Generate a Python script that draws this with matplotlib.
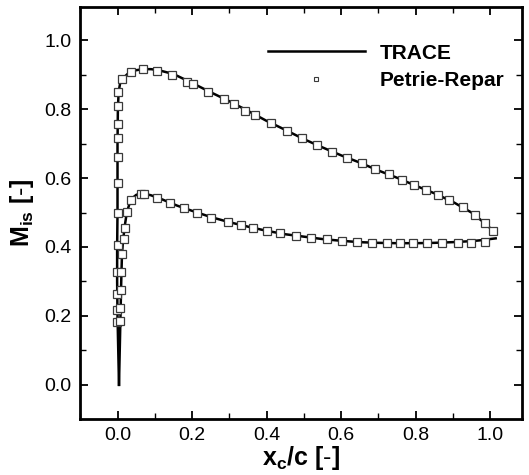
import matplotlib
matplotlib.use("Agg")
import matplotlib.pyplot as plt
from matplotlib.lines import Line2D
from matplotlib.ticker import MultipleLocator

plt.rcParams['font.family'] = ['Liberation Sans', 'DejaVu Sans']
plt.rcParams['mathtext.fontset'] = 'custom'
plt.rcParams['mathtext.rm'] = 'Liberation Sans'
plt.rcParams['mathtext.bf'] = 'Liberation Sans:bold'
plt.rcParams['mathtext.it'] = 'Liberation Sans:italic'

# TRACE (line) - suction side
trace_ss_x = [0.004, 0.002, 0.000, -0.001, -0.001, 0.000, 0.000, 0.000, 0.001, 0.003, 0.007, 0.015, 0.030,
              0.050, 0.070, 0.090, 0.110, 0.150, 0.200, 0.250, 0.300, 0.350, 0.400, 0.450, 0.500, 0.550,
              0.600, 0.650, 0.700, 0.750, 0.800, 0.850, 0.900, 0.950, 0.980, 1.000, 1.008]
trace_ss_y = [0.000, 0.100, 0.200, 0.300, 0.400, 0.500, 0.600, 0.700, 0.800, 0.850, 0.875, 0.890, 0.905,
              0.913, 0.916, 0.916, 0.913, 0.902, 0.876, 0.849, 0.823, 0.795, 0.766, 0.740, 0.713, 0.689,
              0.666, 0.645, 0.622, 0.601, 0.578, 0.556, 0.531, 0.500, 0.474, 0.455, 0.445]
# TRACE (line) - pressure side
trace_ps_x = [0.004, 0.006, 0.008, 0.010, 0.012, 0.015, 0.020, 0.025, 0.032, 0.040, 0.050, 0.060, 0.070,
              0.090, 0.120, 0.160, 0.200, 0.250, 0.300, 0.350, 0.400, 0.450, 0.500, 0.550, 0.600, 0.650,
              0.700, 0.750, 0.800, 0.850, 0.900, 0.950, 0.980, 1.000, 1.015]
trace_ps_y = [0.000, 0.100, 0.200, 0.300, 0.380, 0.420, 0.465, 0.500, 0.525, 0.542, 0.551, 0.555, 0.555,
              0.550, 0.538, 0.520, 0.505, 0.487, 0.472, 0.459, 0.447, 0.437, 0.430, 0.423, 0.418, 0.414,
              0.412, 0.411, 0.411, 0.412, 0.414, 0.417, 0.420, 0.423, 0.425]

# Petrie-Repar (markers) - suction side
pr_ss_x = [-0.002, -0.001, -0.001, -0.002, 0.000, 0.001, 0.000, 0.000, 0.000, 0.000, 0.000, 0.002,
           0.011, 0.036, 0.068, 0.105, 0.147, 0.187, 0.202, 0.243, 0.286, 0.313, 0.341, 0.369,
           0.412, 0.456, 0.496, 0.536, 0.577, 0.615, 0.655, 0.692, 0.729, 0.763, 0.796, 0.828,
           0.861, 0.890, 0.927, 0.960, 0.986, 1.008]
pr_ss_y = [0.183, 0.218, 0.264, 0.327, 0.406, 0.498, 0.585, 0.662, 0.717, 0.757, 0.808, 0.850,
           0.886, 0.909, 0.916, 0.912, 0.899, 0.880, 0.872, 0.851, 0.829, 0.814, 0.796, 0.782,
           0.759, 0.737, 0.715, 0.696, 0.676, 0.659, 0.643, 0.625, 0.611, 0.594, 0.580, 0.565,
           0.551, 0.536, 0.517, 0.493, 0.470, 0.447]
# Petrie-Repar (markers) - pressure side
pr_ps_x = [0.008, 0.008, 0.009, 0.010, 0.012, 0.017, 0.020, 0.025, 0.036, 0.062, 0.070, 0.105,
           0.140, 0.179, 0.214, 0.252, 0.297, 0.332, 0.364, 0.401, 0.437, 0.479, 0.519, 0.561,
           0.602, 0.644, 0.684, 0.722, 0.758, 0.794, 0.830, 0.872, 0.913, 0.948, 0.987]
pr_ps_y = [0.185, 0.222, 0.274, 0.328, 0.380, 0.422, 0.455, 0.502, 0.536, 0.553, 0.553, 0.543,
           0.528, 0.512, 0.499, 0.485, 0.472, 0.464, 0.455, 0.446, 0.440, 0.433, 0.427, 0.422,
           0.417, 0.415, 0.412, 0.411, 0.411, 0.411, 0.411, 0.411, 0.412, 0.413, 0.415]

x_ticks = [0.0, 0.2, 0.4, 0.6, 0.8, 1.0]
y_ticks = [0.0, 0.2, 0.4, 0.6, 0.8, 1.0]
series_names = ["TRACE", "Petrie-Repar"]

fig = plt.figure(figsize=(5.29, 4.75), dpi=100)
ax = fig.add_axes([0.151, 0.118, 0.836, 0.867])

lw = 1.8
ax.plot(trace_ss_x, trace_ss_y, color='black', lw=lw, zorder=2, solid_joinstyle='round')
ax.plot(trace_ps_x, trace_ps_y, color='black', lw=lw, zorder=2, solid_joinstyle='round')
mkw = dict(ls='none', marker='s', ms=5.2, mfc='white', mec='#3a3a3a', mew=0.9, zorder=3)
ax.plot(pr_ss_x, pr_ss_y, **mkw)
ax.plot(pr_ps_x, pr_ps_y, **mkw)

ax.set_xlim(-0.101, 1.086)
ax.set_ylim(-0.099, 1.096)
ax.set_xticks(x_ticks)
ax.set_yticks(y_ticks)
ax.set_xticklabels([f"{v:.1f}" for v in x_ticks])
ax.set_yticklabels([f"{v:.1f}" for v in y_ticks])
ax.xaxis.set_minor_locator(MultipleLocator(0.1))
ax.yaxis.set_minor_locator(MultipleLocator(0.1))
ax.tick_params(which='both', direction='in', top=True, right=True, labelsize=14, pad=6)
ax.tick_params(which='major', length=6, width=1.3)
ax.tick_params(which='minor', length=4, width=1.0)
for s in ax.spines.values():
    s.set_linewidth(2.0)

ax.set_xlabel(r'$\mathbf{x_c/c\ [\text{-}]}$', fontsize=18, labelpad=0)
ax.set_ylabel(r'$\mathbf{M_{is}\ [\text{-}]}$', fontsize=18, labelpad=6)

handles = [Line2D([], [], color='black', lw=lw),
           Line2D([], [], ls='none', marker='s', ms=3.5, mfc='white', mec='#3a3a3a', mew=0.8)]
leg = ax.legend(handles, series_names, loc='upper left', bbox_to_anchor=(0.425, 0.911),
                frameon=False, borderpad=0, borderaxespad=0, handlelength=4.65,
                handletextpad=0.72, labelspacing=0.4, prop={'weight': 'bold', 'size': 15})

fig.savefig('out.png', dpi=100)
